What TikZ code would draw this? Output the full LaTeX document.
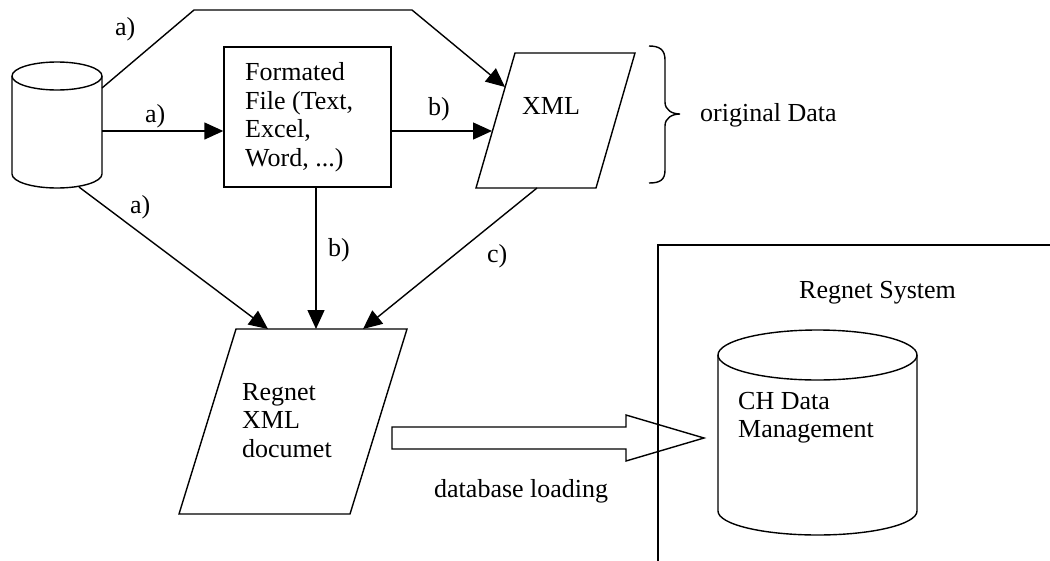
\documentclass[tikz,border=0pt]{standalone}
\usepackage{fontspec}
\setmainfont{Liberation Serif}
\usetikzlibrary{arrows.meta}
\tikzset{
  ln/.style={line width=1.4pt, line join=miter},
  conn/.style={ln, -{Triangle[length=19pt,width=17pt]}},
  txt/.style={inner sep=0pt, font=\fontsize{26}{28.5}\selectfont},
  mtxt/.style={txt, align=left, anchor=north west},
}
\begin{document}
\begin{tikzpicture}[x=1pt,y=-1pt]
\useasboundingbox (0,0) rectangle (1050,560);

% ---- left database cylinder
\draw[ln] (12,76) -- (12,174) arc[start angle=180,end angle=360,x radius=45pt,y radius=14pt] -- (102,76);
\draw[ln] (57,76) ellipse (45pt and 14pt);
\coordinate (dbTop) at (102,88);
\coordinate (dbMid) at (102,131);
\coordinate (dbLow) at (79,187);

% ---- formatted file box
\node[ln, draw, minimum width=167pt, minimum height=140pt, inner sep=0pt] (ff) at (307.5,117) {};
\node[mtxt] (fftext) at (245,62.5) {Formated\\File (Text,\\Excel,\\Word, ...)};

% ---- XML parallelogram
\draw[ln] (515,53) -- (635,53) -- (596,188) -- (476,188) -- cycle;
\node[txt, anchor=base] (xml) at (551,114) {XML};
\coordinate (xmlA) at (505,87);
\coordinate (xmlB) at (492,131);
\coordinate (xmlC) at (537,188);

% ---- brace and label
\draw[ln] (649,46) .. controls (660,46) and (665,50) .. (665,60) -- (665,102)
  .. controls (665,110) and (672,114) .. (680,114)
  .. controls (672,114) and (665,118) .. (665,126) -- (665,170)
  .. controls (665,180) and (660,183) .. (649,183);
\node[txt, anchor=base west] (orig) at (700,121) {original Data};

% ---- Regnet XML document parallelogram
\draw[ln] (236,329) -- (407,329) -- (350,514) -- (179,514) -- cycle;
\node[mtxt] (regtext) at (242,383) {Regnet\\XML\\documet};
\coordinate (rA) at (268,329);
\coordinate (rB) at (316,329);
\coordinate (rC) at (363,329);

% ---- connectors
\coordinate (k1) at (194,10);
\coordinate (k2) at (412,10);
\draw[conn] (dbTop) -- (k1) -- (k2) -- (xmlA);
\draw[conn] (dbMid) -- (dbMid -| ff.west);
\draw[conn] (dbMid -| ff.east) -- (xmlB);
\draw[conn] (dbLow) -- (rA);
\draw[conn] (ff.south -| rB) -- (rB);
\draw[conn] (xmlC) -- (rC);

% ---- connector labels
\node[txt, anchor=base west] (la1) at (115,35) {a)};
\node[txt, anchor=base west] (la2) at (145,122) {a)};
\node[txt, anchor=base west] (lb1) at (428,115) {b)};
\node[txt, anchor=base west] (la3) at (130,213) {a)};
\node[txt, anchor=base west] (lb2) at (328,256) {b)};
\node[txt, anchor=base west] (lc) at (487,262) {c)};

% ---- Regnet system box
\draw[ln] (1052,245) -- (658,245) -- (658,562);
\node[txt, anchor=base west] (sys) at (799,298) {Regnet System};

% ---- CH data management cylinder
\draw[ln] (718,355) -- (718,511) arc[start angle=180,end angle=360,x radius=99.5pt,y radius=24pt] -- (917,355);
\draw[ln] (817.5,355) ellipse (99.5pt and 25pt);
\node[mtxt] (chtext) at (738,392) {CH Data\\Management};

% ---- hollow arrow: database loading
\draw[ln] (392,427) -- (626,427) -- (626,415) -- (704,438) -- (626,461) -- (626,449) -- (392,449) -- cycle;
\node[txt, anchor=base west] (load) at (434,497) {database loading};
\end{tikzpicture}
\end{document}
